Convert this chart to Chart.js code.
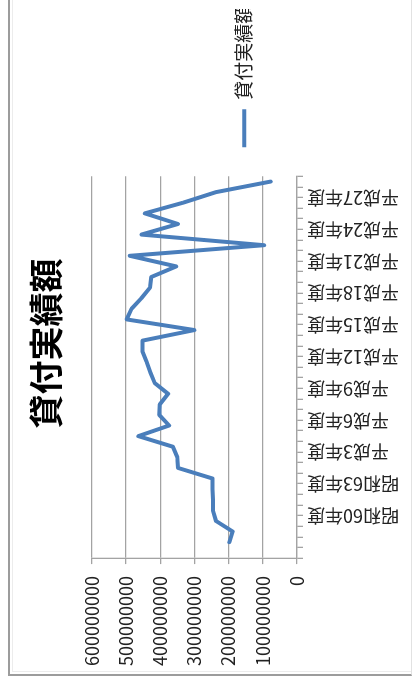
<!DOCTYPE html>
<html lang="ja">
<head>
<meta charset="utf-8">
<title>貸付実績額</title>
<script src="https://cdn.jsdelivr.net/npm/chart.js@4.4.1/dist/chart.umd.min.js"></script>
<style>
  html, body { margin: 0; padding: 0; width: 413px; height: 691px; overflow: hidden; background: #fff; }
  /* The sheet is laid out landscape and turned a quarter turn counter-clockwise. */
  #sheet {
    position: absolute; left: 0; top: 691px;
    width: 691px; height: 413px;
    transform-origin: 0 0; transform: rotate(-90deg);
    background: #fff;
  }
  #frame {
    position: absolute; left: 15px; top: 8px; width: 700px; height: 404px;
    box-sizing: border-box;
    border-top: 2px solid #9c9c9c; border-left: 2px solid #9c9c9c;
    border-bottom: 1px solid #e2e2e2;
  }
  #frame::before {
    content: ''; position: absolute; left: 2px; top: 2px; right: 0; bottom: 0;
    border-top: 1px solid #ececec; border-left: 1px solid #ececec;
  }
  #wrap { position: absolute; left: 11px; top: 10px; width: 680px; height: 401px; }
</style>
</head>
<body>
<div id="sheet">
  <div id="frame"></div>
  <div id="wrap"><canvas id="chart"></canvas></div>
</div>
<script>
// 年度別の貸付実績額（円）
const fiscalYears = [
  '昭和58年度', '昭和59年度', '昭和60年度', '昭和61年度', '昭和62年度', '昭和63年度',
  '平成元年度', '平成2年度', '平成3年度', '平成4年度', '平成5年度', '平成6年度',
  '平成7年度', '平成8年度', '平成9年度', '平成10年度', '平成11年度', '平成12年度',
  '平成13年度', '平成14年度', '平成15年度', '平成16年度', '平成17年度', '平成18年度',
  '平成19年度', '平成20年度', '平成21年度', '平成22年度', '平成23年度', '平成24年度',
  '平成25年度', '平成26年度', '平成27年度', '平成28年度', '平成29年度'
];
const loanAmounts = [
  198000000, 188000000, 237000000, 246000000, 246000000, 247000000,
  247000000, 348000000, 350000000, 363000000, 464000000, 374000000,
  403000000, 401000000, 377000000, 416000000, 429000000, 440000000,
  452000000, 452000000, 300000000, 498000000, 484000000, 455000000,
  430000000, 426000000, 353000000, 489000000, 96000000, 455000000,
  348000000, 445000000, 334000000, 237000000, 77000000
];
const valueTicks = [0, 100000000, 200000000, 300000000, 400000000, 500000000, 600000000];
const seriesName = '貸付実績額';

// The category axis opens with one empty slot ahead of the first fiscal year;
// every third category carries a label.
const categoryLabels = [''].concat(fiscalYears);
const seriesValues = [null].concat(loanAmounts);
const labelStep = 3;

const FONT = '"Noto Sans CJK JP", "Noto Sans", sans-serif';
const GRID = '#a3a3a3';

new Chart(document.getElementById('chart'), {
  type: 'line',
  data: {
    labels: categoryLabels,
    datasets: [{
      label: seriesName,
      data: seriesValues,
      borderColor: '#4a7ebb',
      backgroundColor: '#4a7ebb',
      borderWidth: 4,
      borderJoinStyle: 'round',
      borderCapStyle: 'round',
      pointRadius: 0,
      pointHoverRadius: 0,
      tension: 0,
      fill: false
    }]
  },
  options: {
    responsive: true,
    maintainAspectRatio: false,
    animation: false,
    layout: { padding: { left: 2, right: 9, top: 0, bottom: 8 } },
    plugins: {
      title: {
        display: true,
        text: seriesName,
        color: '#000',
        font: { family: FONT, size: 34, weight: 'bold' },
        padding: { top: 16, bottom: 25 }
      },
      legend: {
        display: true,
        position: 'right',
        align: 'center',
        title: { display: true, text: '', padding: { top: 61, bottom: 0 } },
        labels: {
          usePointStyle: true,
          pointStyle: 'line',
          pointStyleWidth: 38,
          padding: 29,
          color: '#222',
          font: { family: FONT, size: 19 }
        }
      },
      tooltip: { enabled: false }
    },
    scales: {
      x: {
        type: 'category',
        offset: true,
        grid: {
          display: true,
          offset: true,
          drawOnChartArea: false,
          drawTicks: true,
          tickLength: 6,
          color: GRID,
          lineWidth: 1.3
        },
        border: { display: true, color: GRID, width: 1.3 },
        ticks: {
          autoSkip: false,
          minRotation: 90,
          maxRotation: 90,
          padding: 4,
          labelOffset: 5,
          color: '#222',
          font: { family: FONT, size: 18 },
          callback: (v, i) => (i % labelStep === 0 ? categoryLabels[i] : '')
        }
      },
      y: {
        type: 'linear',
        min: valueTicks[0],
        max: valueTicks[valueTicks.length - 1],
        afterBuildTicks: (scale) => { scale.ticks = valueTicks.map(v => ({ value: v })); },
        grid: {
          display: true,
          drawTicks: true,
          tickLength: 6,
          color: GRID,
          lineWidth: 1.3
        },
        border: { display: true, color: GRID, width: 1.3 },
        ticks: {
          padding: 12,
          color: '#222',
          font: { family: FONT, size: 18 },
          callback: (v) => String(v)
        }
      }
    }
  }
});
</script>
</body>
</html>
